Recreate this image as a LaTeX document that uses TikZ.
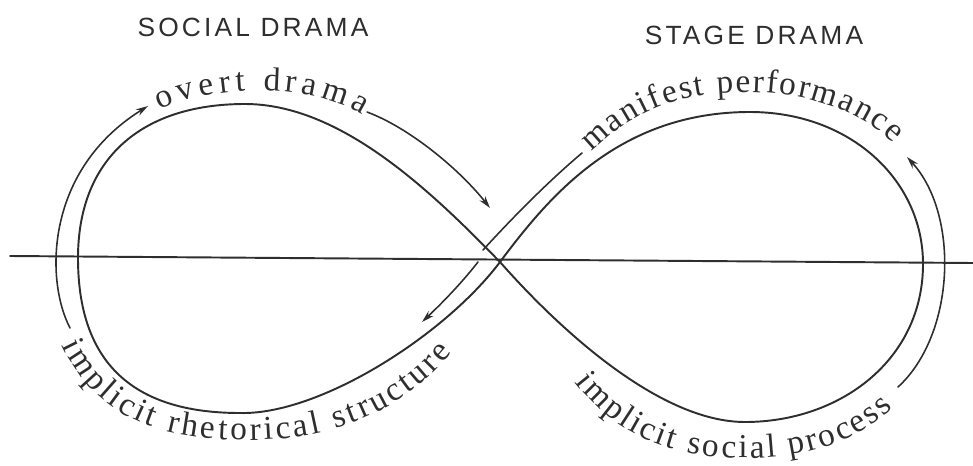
\documentclass[tikz,border=0pt]{standalone}
\usepackage{fontspec}
\usetikzlibrary{decorations.text,arrows.meta}
\newfontfamily\titlefont{Liberation Sans}[LetterSpace=12]
\newfontfamily\loopfont{Liberation Serif}
\colorlet{ink}{black!82}
\tikzset{
  loopline/.style={draw=ink,line width=1.1pt},
  flowline/.style={draw=ink,line width=0.9pt},
  title/.style={font=\titlefont\fontsize{15}{17}\selectfont,text=ink},
  bendtext/.style={decorate,decoration={text along path,text align={fit to path},text color=ink,
      text={|\loopfont\fontsize{19}{22}\selectfont|#1}}}
}
\begin{document}
\begin{tikzpicture}[x=0.02cm,y=-0.02cm,line join=round,line cap=round,>={Stealth[length=7pt,width=4pt]}]
	\useasboundingbox (0,0) rectangle (973,466);
	
	\node[title] (social) at (253,27) {SOCIAL DRAMA};
	\node[title] (stage) at (754,35) {STAGE DRAMA};
	
	% axis and figure eight
	\draw[loopline] (10,256) -- (973,263);
	\coordinate (X) at (500,262);
	\draw[loopline] (X) .. controls (430,190) and (340,104) .. (245,104)
		.. controls (140,104) and (78,160) .. (78,258)
		.. controls (78,360) and (130,413) .. (240,413)
		.. controls (320,415) and (445,335) .. (X)
		.. controls (550,195) and (620,112) .. (750,112)
		.. controls (850,112) and (923,180) .. (923,264)
		.. controls (923,360) and (840,422) .. (745,422)
		.. controls (660,422) and (560,330) .. (X);
	
	% social drama loop
	\draw[flowline,->] (70,328) .. controls (45,280) and (45,170) .. (148,106);
	\path[bendtext={overt drama}] (160,110) .. controls (215,84) and (310,82) .. (362,115);
	\draw[flowline,->] (367,112) .. controls (410,128) and (460,170) .. (490,208);
	\draw[flowline,->] (478,262) .. controls (460,285) and (440,305) .. (422,322);
	\path[bendtext={implicit rhetorical structure}] (62,345) .. controls (100,425) and (170,440) .. (250,440)
		.. controls (340,440) and (410,405) .. (452,352);
	
	% stage drama loop
	\draw[flowline] (483,250) .. controls (515,215) and (550,180) .. (582,153);
	\path[bendtext={manifest performance}] (592,152) .. controls (640,105) and (690,92) .. (745,92)
		.. controls (805,92) and (860,110) .. (893,143);
	\draw[flowline,->] (898,387) .. controls (955,335) and (960,215) .. (907,157);
	\path[bendtext={implicit social process}] (575,382) .. controls (620,440) and (680,458) .. (745,458)
		.. controls (810,458) and (860,440) .. (893,408);
\end{tikzpicture}
\end{document}
